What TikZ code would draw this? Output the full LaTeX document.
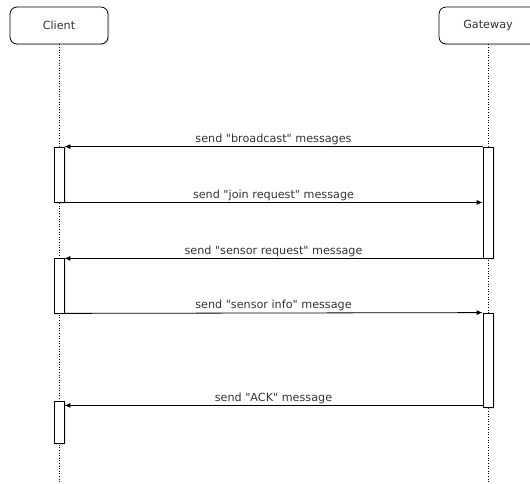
\documentclass[tikz,border=0pt]{standalone}
\usepackage{fontspec}
\setmainfont{DejaVu Sans}[Ligatures=TeXOff]
\usepackage{tikz}
\usetikzlibrary{
  arrows.meta,
  shadows,
  calc,
  positioning
}
\tikzset{>={Latex[length=6pt, width=5pt]}}
\tikzset{font=\fontsize{11.2}{13}\selectfont}
\tikzset{actor/.style={draw=black, fill=white, rounded corners=7pt, minimum width=98pt,
    minimum height=37pt, inner sep=0pt, text=black!80, line width=0.8pt,
    drop shadow={opacity=0.2, shadow xshift=1.5pt, shadow yshift=-1.5pt}}}
\tikzset{act/.style={draw=black, fill=white, minimum width=10pt, inner sep=0pt, line width=0.8pt,
    drop shadow={opacity=0.2, shadow xshift=1.5pt, shadow yshift=-1.5pt}}}
\tikzset{msg/.style={->, line width=0.8pt}}
\tikzset{lbl/.style={above, text=black!80, inner sep=1.5pt}}

\begin{document}
\begin{tikzpicture}[x=1pt, y=-1pt]
          \clip (0,0) rectangle (530,484);
          \useasboundingbox (0,0) rectangle (530,484);
          % lifeline heads
          \node[actor] (client) at (59,25.5) {Client};
          \node[actor] (gateway) at (488,25.5) {Gateway};
          \coordinate (cend) at (59,484);
          \coordinate (gend) at (488,484);
          \draw[dotted, semithick] (client.south) -- (cend);
          \draw[dotted, semithick] (gateway.south) -- (gend);
          % activation bars
          \node[act, minimum height=55pt] (ca1) at (59,174.5) {};
          \node[act, minimum height=111pt] (ga1) at (488,202.5) {};
          \node[act, minimum height=55pt] (ca2) at (59,285.5) {};
          \node[act, minimum height=94pt] (ga2) at (488,360) {};
          \node[act, minimum height=42pt] (ca3) at (59,422.5) {};
          % messages
          \draw[msg] (ga1.north west) -- node[lbl] {send "broadcast" messages} (ca1.north east);
          \draw[msg] (ca1.south east) -- node[lbl] {send "join request" message} (ca1.south east -| ga1.west);
          \draw[msg] (ga1.south west) -- node[lbl] {send "sensor request" message} (ga1.south west -| ca2.east);
          \draw[msg] (ca2.south east) -- node[lbl] {send "sensor info" message} (ga2.north west);
          \coordinate (ackstart) at ($(ga2.south west)+(0,-2)$);
          \draw[msg] (ackstart) -- node[lbl] {send "ACK" message} (ackstart -| ca3.east);
        \end{tikzpicture}
\end{document}
